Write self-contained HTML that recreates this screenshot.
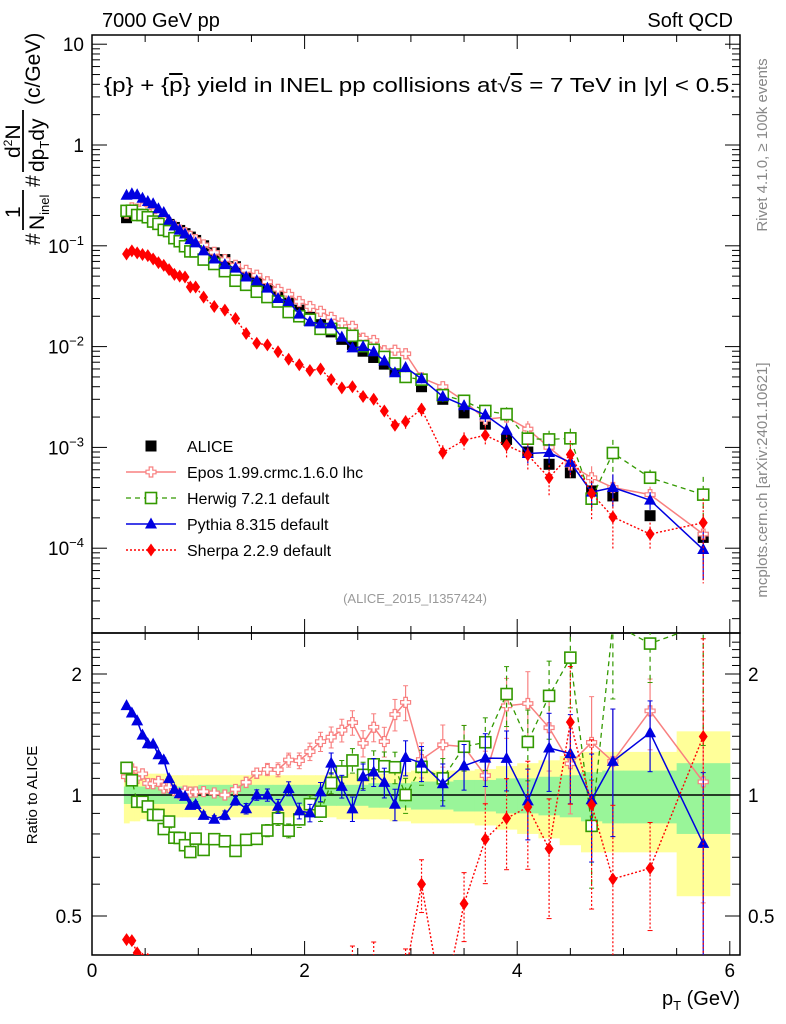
<!DOCTYPE html>
<html><head><meta charset="utf-8">
<style>
html,body{margin:0;padding:0;background:#fff;}
svg{display:block;font-family:"Liberation Sans",Arial,sans-serif;}
</style></head>
<body>
<svg id="chart" width="786" height="1024" viewBox="0 0 786 1024" xmlns="http://www.w3.org/2000/svg">
<defs>
<clipPath id="clipMain"><rect x="92" y="35" width="648" height="598"/></clipPath>
<clipPath id="clipRatio"><rect x="92" y="633" width="648" height="322"/></clipPath>
</defs>
<text x="102" y="27" font-size="20">7000 GeV pp</text>
<text x="733" y="27" font-size="20" text-anchor="end">Soft QCD</text>
<text x="104" y="92" font-size="20" textLength="632" lengthAdjust="spacingAndGlyphs">{p} + {<tspan text-decoration="overline">p</tspan>} yield in INEL pp collisions at√<tspan text-decoration="overline">s</tspan> =  7 TeV in |y| &lt; 0.5.</text>
<text transform="translate(767,145) rotate(-90)" font-size="15" fill="#888" text-anchor="middle">Rivet 4.1.0, ≥ 100k events</text>
<text transform="translate(767,480) rotate(-90)" font-size="15" fill="#888" text-anchor="middle">mcplots.cern.ch [arXiv:2401.10621]</text>
<text x="415" y="603" font-size="13" fill="#999" text-anchor="middle">(ALICE_2015_I1357424)</text>
<g transform="translate(40,150) rotate(-90)" font-size="21">
<text x="-95" y="0">#</text>
<text x="-68" y="-20" font-size="21">1</text>
<line x1="-80" y1="-17" x2="-40" y2="-17" stroke="#000" stroke-width="1.8"/>
<text x="-80" y="4" font-size="21">N<tspan font-size="13" dy="5">inel</tspan></text>
<text x="-37" y="0">#</text>
<text x="-8" y="-20" font-size="21">d<tspan font-size="12" dy="-8">2</tspan><tspan dy="8">N</tspan></text>
<line x1="-22" y1="-17" x2="40" y2="-17" stroke="#000" stroke-width="1.8"/>
<text x="-22" y="4" font-size="21">dp<tspan font-size="13" dy="5">T</tspan><tspan dy="-5">dy</tspan></text>
<text x="45" y="0">(c/GeV)</text>
</g>
<text transform="translate(37,795) rotate(-90)" font-size="15" text-anchor="middle">Ratio to ALICE</text>
<text x="740" y="1005" font-size="20" text-anchor="end">p<tspan font-size="13" dy="5">T</tspan><tspan dy="-5"> (GeV)</tspan></text>
<g id="g"></g>
</svg>
<script>
const pt=[0.325,0.375,0.425,0.475,0.525,0.575,0.625,0.675,0.725,0.775,0.825,0.875,0.925,0.975,1.05,1.15,1.25,1.35,1.45,1.55,1.65,1.75,1.85,1.95,2.05,2.15,2.25,2.35,2.45,2.55,2.65,2.75,2.85,2.95,3.1,3.3,3.5,3.7,3.9,4.1,4.3,4.5,4.7,4.9,5.25,5.75];
const binLo=[0.3,0.35,0.4,0.45,0.5,0.55,0.6,0.65,0.7,0.75,0.8,0.85,0.9,0.95,1.0,1.1,1.2,1.3,1.4,1.5,1.6,1.7,1.8,1.9,2.0,2.1,2.2,2.3,2.4,2.5,2.6,2.7,2.8,2.9,3.0,3.2,3.4,3.6,3.8,4.0,4.2,4.4,4.6,4.8,5.0,5.5];
const binHi=[0.35,0.4,0.45,0.5,0.55,0.6,0.65,0.7,0.75,0.8,0.85,0.9,0.95,1.0,1.1,1.2,1.3,1.4,1.5,1.6,1.7,1.8,1.9,2.0,2.1,2.2,2.3,2.4,2.5,2.6,2.7,2.8,2.9,3.0,3.2,3.4,3.6,3.8,4.0,4.2,4.4,4.6,4.8,5.0,5.5,6.0];
const alice=[0.19,0.205,0.21,0.21,0.205,0.195,0.185,0.175,0.163,0.152,0.142,0.132,0.122,0.113,0.10,0.085,0.073,0.062,0.053,0.045,0.038,0.032,0.027,0.023,0.0195,0.0165,0.014,0.0118,0.0105,0.009,0.0078,0.0067,0.0058,0.0050,0.0040,0.0030,0.0022,0.0017,0.0012,0.00090,0.00068,0.00056,0.00037,0.00033,0.00021,0.000128];
const bandInner=[0.05,0.05,0.05,0.05,0.05,0.05,0.05,0.05,0.05,0.05,0.05,0.05,0.05,0.05,0.06,0.06,0.06,0.06,0.06,0.06,0.06,0.06,0.06,0.06,0.06,0.06,0.06,0.06,0.06,0.06,0.07,0.07,0.07,0.07,0.08,0.08,0.09,0.09,0.10,0.10,0.11,0.12,0.14,0.15,0.15,0.20];
const bandOuter=[0.15,0.14,0.14,0.13,0.13,0.13,0.13,0.13,0.12,0.12,0.12,0.12,0.12,0.12,0.12,0.12,0.12,0.12,0.12,0.12,0.12,0.12,0.12,0.12,0.12,0.12,0.12,0.13,0.13,0.13,0.13,0.13,0.14,0.14,0.15,0.15,0.15,0.16,0.18,0.20,0.22,0.25,0.28,0.28,0.28,0.44];
const epos=[0.211,0.238,0.231,0.237,0.219,0.208,0.200,0.182,0.170,0.156,0.143,0.135,0.124,0.115,0.102,0.086,0.073,0.064,0.057,0.051,0.044,0.037,0.033,0.028,0.025,0.0224,0.0195,0.0171,0.0159,0.0121,0.0115,0.0091,0.0092,0.0085,0.0049,0.0040,0.0029,0.0019,0.0020,0.00152,0.00100,0.00067,0.00050,0.00040,0.00034,0.000138];
const herwig=[0.222,0.223,0.202,0.202,0.192,0.174,0.165,0.144,0.140,0.119,0.111,0.099,0.088,0.088,0.073,0.066,0.056,0.045,0.041,0.035,0.031,0.028,0.022,0.020,0.0185,0.0150,0.0150,0.0135,0.0128,0.0101,0.0093,0.0079,0.0068,0.0050,0.0047,0.0033,0.0029,0.0023,0.00214,0.00122,0.00120,0.00123,0.00031,0.00088,0.00050,0.00034];
const pythia=[0.317,0.328,0.321,0.296,0.275,0.261,0.233,0.214,0.179,0.157,0.143,0.131,0.115,0.107,0.089,0.074,0.065,0.060,0.049,0.045,0.038,0.030,0.028,0.021,0.0176,0.0168,0.0168,0.0124,0.0097,0.0100,0.0089,0.0072,0.0055,0.0062,0.0048,0.0032,0.0026,0.0021,0.00148,0.00087,0.00089,0.00071,0.00036,0.00040,0.00030,0.000097];
const sherpa=[0.083,0.089,0.085,0.082,0.080,0.074,0.068,0.064,0.058,0.052,0.050,0.049,0.039,0.039,0.031,0.025,0.023,0.019,0.0135,0.0108,0.0104,0.0089,0.0075,0.0066,0.0058,0.0060,0.0047,0.0039,0.0040,0.0032,0.0030,0.0023,0.00166,0.0018,0.0024,0.00089,0.00118,0.00132,0.00105,0.00084,0.00050,0.00085,0.00035,0.000204,0.000138,0.000179];
const mcErr=[0.01,0.01,0.01,0.01,0.01,0.01,0.012,0.012,0.012,0.014,0.014,0.015,0.016,0.017,0.02,0.02,0.025,0.025,0.03,0.03,0.035,0.04,0.04,0.045,0.05,0.055,0.06,0.065,0.07,0.075,0.08,0.085,0.09,0.1,0.1,0.12,0.13,0.15,0.17,0.2,0.22,0.25,0.3,0.35,0.2,0.5];
const xTickLabels=["0","2","4","6"];
const ratioTickVals=[0.5,1,2];
const ratioTickLabels=["0.5","1","2"];

const NS="http://www.w3.org/2000/svg";
const G=document.getElementById('g');
function el(tag,attrs,parent){const e=document.createElementNS(NS,tag);for(const k in attrs)e.setAttribute(k,attrs[k]);(parent||G).appendChild(e);return e;}
const L=92,R=740,T=35,MB=633,RB=955;
const X=v=>92+v*106.3;
const Y=v=>145-100.8*Math.log10(v);
const RY=v=>795-121*Math.log2(v);

const fm=el('rect',{x:L,y:T,width:R-L,height:MB-T,fill:'none',stroke:'#000','stroke-width':1.5});


const bands=el('g',{'clip-path':'url(#clipRatio)'});


for(let i=0;i<pt.length;i++){
  const a=el('rect',{x:X(binLo[i]),y:RY(1+bandOuter[i]),width:X(binHi[i])-X(binLo[i])+0.5,height:RY(Math.max(1-bandOuter[i],0.35))-RY(1+bandOuter[i]),fill:'#ffff99'},bands);
  
  
}
for(let i=0;i<pt.length;i++){
  const a=el('rect',{x:X(binLo[i]),y:RY(1+bandInner[i]),width:X(binHi[i])-X(binLo[i])+0.5,height:RY(1-bandInner[i])-RY(1+bandInner[i]),fill:'#99f599'},bands);
  
  
}
const rl=el('line',{x1:L,x2:R,y1:RY(1),y2:RY(1),stroke:'#000','stroke-width':1.5});


const fr=el('rect',{x:L,y:MB,width:R-L,height:RB-MB,fill:'none',stroke:'#000','stroke-width':1.5});



for(let v=0;v<=6.01;v+=0.5){
  const major=Math.abs(v-Math.round(v/2)*2)<0.01, len=major?14:7;
  for(const [b,d] of [[MB,-1],[RB,-1],[T,1]]){
    el('line',{x1:X(v),x2:X(v),y1:b,y2:b+d*len,stroke:'#000','stroke-width':1});
  }
  el('line',{x1:X(v),x2:X(v),y1:MB,y2:MB+len,stroke:'#000','stroke-width':1});
}
xTickLabels.forEach(s=>{const t=el('text',{x:X(+s),y:977,'font-size':19,'text-anchor':'middle'});t.textContent=s;

});

for(let e=-5;e<=1;e++){
  for(let m=1;m<10;m++){
    const v=m*Math.pow(10,e),y=Y(v);
    if(y<T||y>MB)continue;
    const len=m==1?15:8;
    el('line',{x1:L,x2:L+len,y1:y,y2:y,stroke:'#000'});
    el('line',{x1:R,x2:R-len,y1:y,y2:y,stroke:'#000'});
  }
  const y=Y(Math.pow(10,e));
  if(y<T||y>MB)continue;
  const t=el('text',{x:84,y:y+7,'font-size':19,'text-anchor':'end'});
  
  
  if(e==1)t.textContent='10';else if(e==0)t.textContent='1';
  else{t.textContent='10';const s=el('tspan',{'font-size':13,dy:-8},t);s.textContent='−'+(-e);}
}
for(let v=0.4;v<=2.5;v+=0.1){
  const y=RY(v);if(y<MB||y>RB)continue;
  const major=[0.5,1,2].some(m=>Math.abs(m-v)<0.01),len=major?15:8;
  el('line',{x1:L,x2:L+len,y1:y,y2:y,stroke:'#000'});
  el('line',{x1:R,x2:R-len,y1:y,y2:y,stroke:'#000'});
}
ratioTickVals.forEach((v,i)=>{
  for(const [x,a] of [[82,'end'],[748,'start']]){
    const t=el('text',{x:x,y:RY(v)+7,'font-size':19,'text-anchor':a});t.textContent=ratioTickLabels[i];
    
    
  }
});

function marker(kind,x,y,col,parent){
  if(kind=='square')return el('rect',{x:x-5.5,y:y-5.5,width:11,height:11,fill:'#000'},parent);
  if(kind=='osquare')return el('rect',{x:x-5.5,y:y-5.5,width:11,height:11,fill:'#fff',stroke:col,'stroke-width':1.6},parent);
  if(kind=='tri')return el('path',{d:`M${x},${y-6.5} L${x+6},${y+4.5} L${x-6},${y+4.5}Z`,fill:col},parent);
  if(kind=='diamond')return el('path',{d:`M${x},${y-6.5} L${x+4.5},${y} L${x},${y+6.5} L${x-4.5},${y}Z`,fill:col},parent);
  if(kind=='cross')return el('path',{d:`M${x-1.8},${y-5} h3.6 v3.2 h3.2 v3.6 h-3.2 v3.2 h-3.6 v-3.2 h-3.2 v-3.6 h3.2Z`,fill:'#fff',stroke:col,'stroke-width':1.2},parent);
}
const series=[
 {name:'epos',vals:epos,col:'#f88080',kind:'cross',dash:'',w:1.5,errScale:1},
 {name:'herwig',vals:herwig,col:'#339900',kind:'osquare',dash:'5,4',w:1.3,errScale:1},
 {name:'pythia',vals:pythia,col:'#0000e0',kind:'tri',dash:'',w:1.5,errScale:1},
 {name:'sherpa',vals:sherpa,col:'#ff0000',kind:'diamond',dash:'2,2',w:1.4,errScale:1.5}
];
const gm=el('g',{'clip-path':'url(#clipMain)'});


const ga=el('g',{},gm);


alice.forEach((v,i)=>{const m=marker('square',X(pt[i]),Y(v),'#000',ga);

});
series.forEach(s=>{
  const g=el('g',{},gm);
  
  
  el('polyline',{points:s.vals.map((v,i)=>X(pt[i])+','+Y(v)).join(' '),fill:'none',stroke:s.col,'stroke-width':s.w,'stroke-dasharray':s.dash},g);
  s.vals.forEach((v,i)=>{
    const e=mcErr[i]*s.errScale;
    el('line',{x1:X(pt[i]),x2:X(pt[i]),y1:Y(v*(1+e)),y2:Y(Math.max(v*(1-e),1e-6)),stroke:s.col,'stroke-width':1.2,'stroke-dasharray':s.dash},g);
    const m=marker(s.kind,X(pt[i]),Y(v),s.col,g);
    
    
  });
});
const gr=el('g',{'clip-path':'url(#clipRatio)'});


series.forEach(s=>{
  const g=el('g',{},gr);
  
  
  const r=s.vals.map((v,i)=>v/alice[i]);
  el('polyline',{points:r.map((v,i)=>X(pt[i])+','+RY(v)).join(' '),fill:'none',stroke:s.col,'stroke-width':s.w,'stroke-dasharray':s.dash},g);
  r.forEach((v,i)=>{
    const e=mcErr[i]*s.errScale;
    el('line',{x1:X(pt[i]),x2:X(pt[i]),y1:RY(v*(1+e)),y2:RY(Math.max(v*(1-e),0.01)),stroke:s.col,'stroke-width':1.2,'stroke-dasharray':s.dash},g);
    el('line',{x1:X(pt[i])-2.5,x2:X(pt[i])+2.5,y1:RY(v*(1+e)),y2:RY(v*(1+e)),stroke:s.col,'stroke-width':1},g);
    el('line',{x1:X(pt[i])-2.5,x2:X(pt[i])+2.5,y1:RY(Math.max(v*(1-e),0.01)),y2:RY(Math.max(v*(1-e),0.01)),stroke:s.col,'stroke-width':1},g);
    const m=marker(s.kind,X(pt[i]),RY(v),s.col,g);
    
    
  });
});
const legendNames=['ALICE','Epos 1.99.crmc.1.6.0 lhc','Herwig 7.2.1 default','Pythia 8.315 default','Sherpa 2.2.9 default'];
const legendKinds=[{kind:'square',col:'#000',dash:null},...series];
const lg=el('g',{});


legendNames.forEach((n,i)=>{
  const y=446+i*26,s=legendKinds[i];
  const g=el('g',{},lg);
  
  
  if(i>0)el('line',{x1:126,x2:176,y1:y,y2:y,stroke:s.col,'stroke-width':s.w,'stroke-dasharray':s.dash},g);
  marker(s.kind,151,y,s.col,g);
  const t=el('text',{x:187,y:y+6,'font-size':16},g);t.textContent=n;
});
</script>
</body></html>
